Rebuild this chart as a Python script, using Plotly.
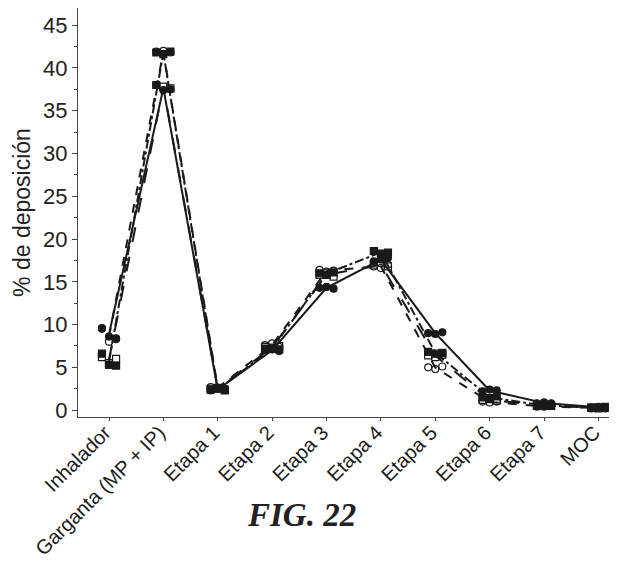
import plotly.graph_objects as go
import numpy as np

categories = ["Inhalador", "Garganta (MP + IP)", "Etapa 1", "Etapa 2", "Etapa 3",
              "Etapa 4", "Etapa 5", "Etapa 6", "Etapa 7", "MOC"]

# replicate values per category (3 per series)
serie_a = [[9.6, 8.6, 8.4], [38.0, 37.4, 37.5], [2.3, 2.5, 2.4], [7.0, 7.1, 6.9],
           [14.3, 14.4, 14.2], [17.4, 17.6, 17.8], [9.0, 8.9, 9.1], [2.2, 2.4, 2.3],
           [0.8, 0.9, 0.8], [0.3, 0.4, 0.3]]
serie_b = [[9.5, 8.0, 8.3], [41.9, 42.0, 41.8], [2.7, 2.6, 2.5], [7.6, 7.8, 7.4],
           [16.4, 16.2, 16.3], [16.8, 16.6, 17.0], [5.0, 4.8, 5.1], [1.0, 0.9, 1.0],
           [0.4, 0.4, 0.5], [0.2, 0.3, 0.2]]
serie_c = [[6.6, 5.3, 5.2], [41.8, 41.6, 41.9], [2.4, 2.5, 2.3], [7.2, 7.3, 7.1],
           [16.0, 15.8, 16.1], [18.6, 18.3, 18.4], [6.8, 6.6, 6.7], [1.5, 1.4, 1.6],
           [0.5, 0.6, 0.5], [0.3, 0.3, 0.4]]
serie_d = [[6.2, 5.5, 6.0], [38.0, 37.8, 37.6], [2.5, 2.6, 2.4], [7.4, 7.2, 7.5],
           [15.8, 16.0, 15.6], [17.0, 17.2, 16.8], [6.4, 6.2, 6.5], [1.2, 1.3, 1.1],
           [0.5, 0.5, 0.6], [0.3, 0.2, 0.3]]

series = [
    ("A", serie_a, "solid", "circle"),
    ("B", serie_b, "dash", "circle-open"),
    ("C", serie_c, "dashdot", "square"),
    ("D", serie_d, "longdash", "square-open"),
]
rep_offsets = [-0.13, 0.0, 0.13]
ink = "#1a1a1a"

fig = go.Figure()
idx = np.arange(len(categories))
for name, data, dash, sym in series:
    arr = np.array(data)
    means = arr.mean(axis=1)
    fig.add_trace(go.Scatter(x=idx, y=means, mode="lines",
                             line=dict(color=ink, width=2, dash=dash),
                             showlegend=False, hoverinfo="skip"))
    xs, ys = [], []
    for i, reps in enumerate(data):
        for off, v in zip(rep_offsets, reps):
            xs.append(i + off)
            ys.append(v)
    fig.add_trace(go.Scatter(x=xs, y=ys, mode="markers",
                             marker=dict(symbol=sym, size=7, color=ink,
                                         line=dict(color=ink, width=1.2)),
                             showlegend=False))

fig.update_layout(
    width=609, height=563,
    margin=dict(l=70, r=5, t=0, b=154),
    plot_bgcolor="white", paper_bgcolor="white",
    font=dict(family="Liberation Sans, Arial, sans-serif", size=20, color="#222"),
    xaxis=dict(range=[-0.57, 9.25], tickvals=list(idx), ticktext=categories,
               tickangle=-45, showgrid=False, zeroline=False, automargin=False,
               showline=True, linecolor="#444", linewidth=1, mirror=True,
               ticks="outside", ticklen=3, tickcolor="#444",
               ticklabelstandoff=-8, ticklabelshift=-4,
               tickfont=dict(size=20, color="#1a1a1a")),
    yaxis=dict(range=[-0.8, 47.0], tickvals=list(range(0, 50, 5)),
               showgrid=False, zeroline=False, automargin=False,
               showline=True, linecolor="#444", linewidth=1, mirror=True,
               ticks="outside", ticklen=5, tickcolor="#444",
               minor=dict(dtick=2.5, ticks="outside", ticklen=3, tickcolor="#444"),
               title=dict(text="% de deposición", font=dict(size=23, color="#222"), standoff=6),
               tickfont=dict(size=22, color="#222")),
    annotations=[dict(text="<b><i>FIG. 22</i></b>", x=0.418, y=-0.24,
                      xref="paper", yref="paper", showarrow=False,
                      xanchor="center", yanchor="middle",
                      font=dict(family="Liberation Serif, Times New Roman, serif",
                                size=33, color="#222"))],
)

fig.write_html("out.html")
